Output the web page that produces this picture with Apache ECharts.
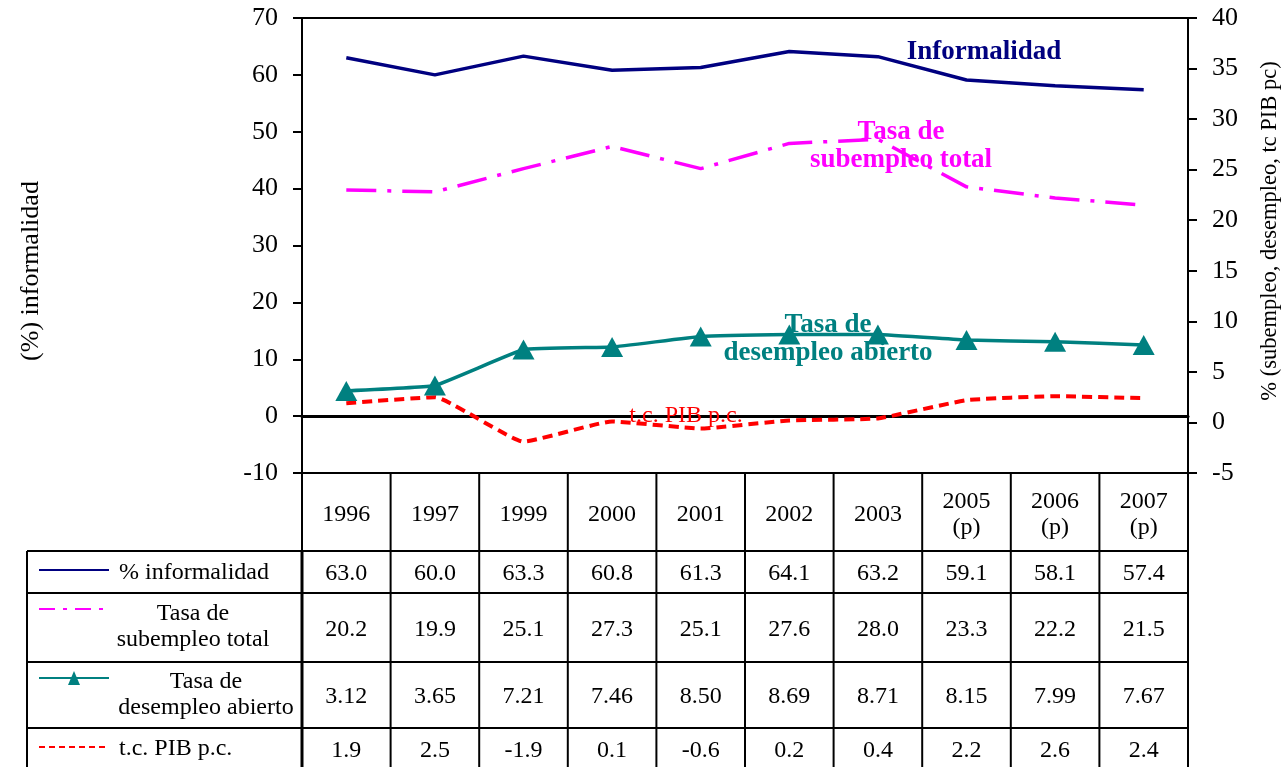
<!DOCTYPE html>
<html><head><meta charset="utf-8">
<script src="https://cdn.jsdelivr.net/npm/echarts@6/dist/echarts.min.js"></script>
<style>html,body{margin:0;padding:0;background:#fff}#c{width:1286px;height:767px}</style>
</head><body><div id="c"></div>
<script>
// ---- data ----
const years = ['1996','1997','1999','2000','2001','2002','2003','2005\n(p)','2006\n(p)','2007\n(p)'];
const informalidad = [63.0,60.0,63.3,60.8,61.3,64.1,63.2,59.1,58.1,57.4];
const subempleoTabla = [20.2,19.9,25.1,27.3,25.1,27.6,28.0,23.3,22.2,21.5];
const subempleoGrafico = [23.0,22.8,25.1,27.3,25.1,27.6,28.0,23.3,22.2,21.5]; // as drawn in the chart
const desempleo = [3.12,3.65,7.21,7.46,8.50,8.69,8.71,8.15,7.99,7.67];
const pibpc = [1.9,2.5,-1.9,0.1,-0.6,0.2,0.4,2.2,2.6,2.4];
const leftAxis = {min:-10, max:70, interval:10};
const rightAxis = {min:-5, max:40, interval:5};
const rowLabels = ['% informalidad','Tasa de\nsubempleo total','Tasa de\ndesempleo abierto','t.c. PIB p.c.'];

const NAVY='#000080', MAG='#FF00FF', TEAL='#008080', RED='#FF0000';
const SERIF='"Liberation Serif","Times New Roman",serif';

const chart = echarts.init(document.getElementById('c'), null, {renderer:'canvas'});
chart.setOption({
  animation:false,
  backgroundColor:'#fff',
  grid:{left:302, right:98, top:18, height:455, show:true, borderColor:'#000', borderWidth:2, backgroundColor:'transparent'},
  xAxis:{type:'category', data:years, boundaryGap:true,
    axisLine:{onZero:true, onZeroAxisIndex:0, lineStyle:{color:'#000', width:3}},
    axisTick:{show:false}, axisLabel:{show:false}, splitLine:{show:false}},
  yAxis:[
    {type:'value', min:leftAxis.min, max:leftAxis.max, interval:leftAxis.interval, position:'left',
     axisLine:{show:true, onZero:false, lineStyle:{color:'#000', width:2}},
     axisTick:{show:true, inside:false, length:9, lineStyle:{color:'#000', width:2}},
     axisLabel:{color:'#000', fontFamily:SERIF, fontSize:26, margin:24, padding:[4,0,0,0]},
     splitLine:{show:false}},
    {type:'value', min:rightAxis.min, max:rightAxis.max, interval:rightAxis.interval, position:'right',
     axisLine:{show:true, onZero:false, lineStyle:{color:'#000', width:2}},
     axisTick:{show:true, inside:false, length:9, lineStyle:{color:'#000', width:2}},
     axisLabel:{color:'#000', fontFamily:SERIF, fontSize:26, margin:24, padding:[4,0,0,0]},
     splitLine:{show:false}}
  ],
  series:[
    {name:'% informalidad', type:'line', yAxisIndex:0, data:informalidad, symbol:'none',
     lineStyle:{color:NAVY, width:3.5}, z:3},
    {name:'Tasa de subempleo total', type:'line', yAxisIndex:1, data:subempleoGrafico, symbol:'none',
     lineStyle:{color:MAG, width:3.5, type:[30,11,4,11]}, z:3},
    {name:'Tasa de desempleo abierto', type:'line', yAxisIndex:1, data:desempleo, symbol:'triangle', symbolSize:[22,20],
     smooth:0.08, itemStyle:{color:TEAL}, lineStyle:{color:TEAL, width:3.5}, z:4},
    {name:'t.c. PIB p.c.', type:'line', yAxisIndex:1, data:pibpc, symbol:'none', smooth:0.12,
     lineStyle:{color:RED, width:4, type:[10,6]}, z:3}
  ]
});

// ---- annotations, axis names and data table built from chart scales ----
const g = [];
const cx = years.map((_,i)=>chart.convertToPixel({xAxisIndex:0}, i));
const band = cx[1]-cx[0];
const left = cx[0]-band/2, right = cx[cx.length-1]+band/2;
const yBottom = chart.convertToPixel({yAxisIndex:0}, leftAxis.min);
const L = (x1,y1,x2,y2,w,col,dash)=>g.push({type:'line', silent:true, shape:{x1,y1,x2,y2}, style:{stroke:col||'#000', lineWidth:w||2, lineDash:dash||null}, z:10});
const T = (x,y,text,opt)=>g.push(Object.assign({type:'text', silent:true, x, y, style:Object.assign({text, font:'24px '+SERIF, fill:'#000', align:'center', verticalAlign:'middle', lineHeight:26}, opt||{}), z:11}));

// axis names
g.push({type:'text', x:31, y:271, rotation:Math.PI/2, style:{text:'(%) informalidad', font:'26px '+SERIF, fill:'#000', align:'center', verticalAlign:'middle'}});
g.push({type:'text', x:1270, y:231, rotation:Math.PI/2, style:{text:'% (subempleo, desempleo, tc PIB pc)', font:'22.5px '+SERIF, fill:'#000', align:'center', verticalAlign:'middle'}});

// in-chart labels
T(984, 52, 'Informalidad', {font:'bold 27px '+SERIF, fill:NAVY});
T(901, 146, 'Tasa de\nsubempleo total', {font:'bold 27px '+SERIF, fill:MAG, lineHeight:28});
T(828, 339, 'Tasa de\ndesempleo abierto', {font:'bold 27px '+SERIF, fill:TEAL, lineHeight:28});
T(686, 416, 't.c. PIB p.c.', {font:'24px '+SERIF, fill:RED});

// table geometry
const rowsY = [yBottom, 551, 593, 662, 728, 769];
const tableLeft = 27;
for (let i=0;i<=years.length;i++){ const x = left + i*band; L(x, yBottom, x, rowsY[1], 2); }
for (let i=0;i<=years.length;i++){ const x = left + i*band; L(x, rowsY[1], x, rowsY[5], i===0?3:2); }
L(tableLeft, rowsY[1], tableLeft, rowsY[5], 2);
for (let r=1;r<5;r++) L(tableLeft, rowsY[r], right, rowsY[r], 2);
// header texts
years.forEach((y,i)=>T(cx[i], (rowsY[0]+rowsY[1])/2 + 3, y, {lineHeight:26}));
// values
const rowsVals = [informalidad.map(v=>v.toFixed(1)), subempleoTabla.map(v=>v.toFixed(1)), desempleo.map(v=>v.toFixed(2)), pibpc.map(v=>v.toFixed(1))];
rowsVals.forEach((vals,r)=>{ const ym=(rowsY[r+1]+rowsY[r+2])/2 + 2; vals.forEach((v,i)=>T(cx[i], ym, v)); });
// row labels with legend keys
const iconX1=39, iconX2=109;
L(iconX1, 570, iconX2, 570, 2, NAVY);
T(119, 573, rowLabels[0], {align:'left'});
L(iconX1, 609, iconX2, 609, 2, MAG, [16,8,4,8]);
T(193, 627, rowLabels[1], {lineHeight:26});
L(iconX1, 678, iconX2, 678, 2, TEAL);
g.push({type:'polygon', silent:true, shape:{points:[[74,671],[68,685],[80,685]]}, style:{fill:TEAL}, z:12});
T(206, 695, rowLabels[2], {lineHeight:26});
L(iconX1, 747, iconX2, 747, 2, RED, [6,4]);
T(119, 749, rowLabels[3], {align:'left'});

chart.setOption({graphic:g});
</script></body></html>
